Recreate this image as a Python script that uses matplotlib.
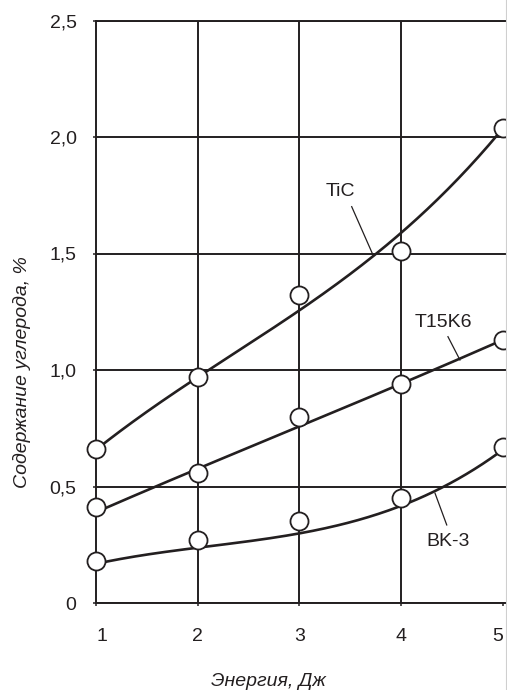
## ============================================================
## Содержание углерода vs Энергия (TiC, T15K6, BK-3)
## ============================================================
import numpy as np
import matplotlib.pyplot as plt
from matplotlib.lines import Line2D

plt.rcParams['font.family'] = ['Liberation Sans', 'DejaVu Sans']

## ------------------------------------------------------------
## 데이터
## ------------------------------------------------------------
energy = [1, 2, 3, 4, 5]

# 측정점 (원)
tic_pts   = [0.66, 0.97, 1.32, 1.51, 2.04]
t15k6_pts = [0.41, 0.56, 0.80, 0.94, 1.13]
bk3_pts   = [0.18, 0.27, 0.35, 0.45, 0.67]

# 근사 곡선이 지나가는 값
tic_curve   = [0.66, 0.96, 1.27, 1.58, 2.04]
t15k6_curve = [0.39, 0.575, 0.76, 0.94, 1.13]
bk3_curve   = [0.17, 0.23, 0.31, 0.41, 0.66]

series_names = ['TiC', 'T15K6', 'BK-3']

x_ticks  = [1, 2, 3, 4, 5]
y_ticks  = [0, 0.5, 1.0, 1.5, 2.0, 2.5]
y_labels = ['0', '0,5', '1,0', '1,5', '2,0', '2,5']

## ------------------------------------------------------------
## 그래프
## ------------------------------------------------------------
W, H = 507, 690
fig = plt.figure(figsize=(W / 100, H / 100), dpi=100)
ax = fig.add_axes([96 / W, 1 - 603 / H, (W - 96) / W, (603 - 20.5) / H])

ink = '#231f20'

# 격자 (x=5 세로선 없음)
ax.yaxis.grid(True, color=ink, lw=1.4)
for xv in x_ticks[1:-1]:
    ax.axvline(xv, color=ink, lw=1.4, zorder=1)
ax.set_axisbelow(True)

# 곡선 (3차 근사)
xs = np.linspace(1, 5, 200)
for curve in [tic_curve, t15k6_curve, bk3_curve]:
    coef = np.polyfit(energy, curve, 3)
    ax.plot(xs, np.polyval(coef, xs), color=ink, lw=1.9, zorder=3,
            solid_capstyle='butt')

# 측정점
for pts in [tic_pts, t15k6_pts, bk3_pts]:
    ax.plot(energy, pts, 'o', ms=13, mfc='white', mec=ink, mew=1.3,
            zorder=4, clip_on=False)

# 라벨 + 지시선
labels = [
    # name, text xy, line start, line end
    ('TiC',   (3.40, 1.764), (3.513, 1.701), (3.722, 1.494)),
    ('T15K6', (4.41, 1.204), (4.459, 1.143), (4.577, 1.043)),
    ('BK-3',  (4.46, 0.262), (4.447, 0.335), (4.332, 0.471)),
]
for name, txy, p0, p1 in labels:
    ax.text(txy[0], txy[1], name, fontsize=14, color=ink,
            ha='center', va='center', zorder=5)
    ax.plot([p0[0], p1[0]], [p0[1], p1[1]], color=ink, lw=0.9, zorder=3)

# 축 설정
ax.set_xlim(1, 5 + 4 / 101.75)
ax.set_ylim(0, 2.5)
ax.set_xticks(x_ticks)
ax.set_xticklabels([str(v) for v in x_ticks])
ax.set_yticks(y_ticks)
ax.set_yticklabels(y_labels)
ax.tick_params(axis='both', labelsize=14, colors=ink, length=2, width=1.1)
ax.tick_params(axis='x', pad=16)
ax.tick_params(axis='y', pad=12)

# 첫/마지막 x 눈금 라벨 위치 보정
xlabs = ax.get_xticklabels()
xlabs[0].set_horizontalalignment('left')
xlabs[-1].set_horizontalalignment('right')

for side in ['left', 'bottom', 'top']:
    ax.spines[side].set_color(ink)
    ax.spines[side].set_linewidth(1.4)
ax.spines['right'].set_visible(False)

# 오른쪽 가장자리 연한 테두리
fig.add_artist(Line2D([505.5 / W, 505.5 / W], [0.0, 1.0],
                      color='#cfcfcf', lw=0.8))

# 축 제목
fig.text(268 / W, 1 - 682 / H, 'Энергия, Дж', fontsize=14, style='italic',
         ha='center', va='center', color=ink)
fig.text(22 / W, 1 - 372 / H, 'Содержание углерода, %', fontsize=14,
         style='italic', rotation=90, ha='center', va='center', color=ink)

fig.savefig('out.png', dpi=100, facecolor='white')
